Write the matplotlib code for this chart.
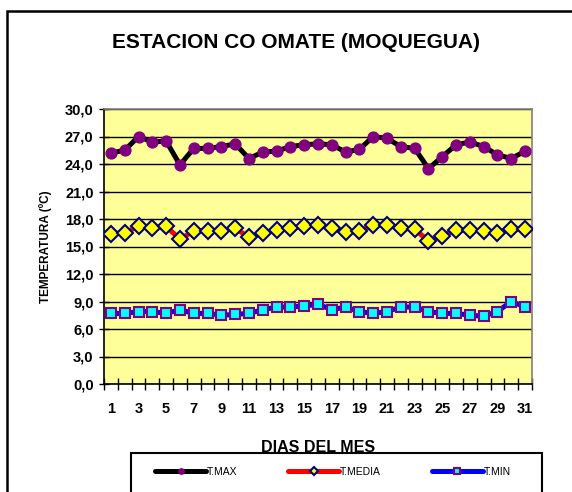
import numpy as np
import matplotlib
matplotlib.use("Agg")
import matplotlib.pyplot as plt
from matplotlib.patches import Rectangle

plt.rcParams['font.family'] = ['Liberation Sans', 'DejaVu Sans']

# datos
dias = list(range(1, 32))
t_max = [25.2, 25.5, 27.0, 26.4, 26.5, 23.9, 25.7, 25.7, 25.9, 26.2, 24.6,
         25.3, 25.4, 25.9, 26.1, 26.2, 26.1, 25.3, 25.6, 27.0, 26.8, 25.9,
         25.7, 23.5, 24.8, 26.1, 26.4, 25.9, 25.0, 24.6, 25.4]
t_media = [16.4, 16.5, 17.2, 17.0, 17.2, 15.8, 16.7, 16.7, 16.7, 17.0, 16.0,
           16.5, 16.8, 17.0, 17.2, 17.4, 17.0, 16.6, 16.7, 17.3, 17.4, 17.0,
           16.9, 15.6, 16.2, 16.8, 16.8, 16.7, 16.5, 16.9, 16.9]
t_min = [7.7, 7.7, 7.9, 7.9, 7.7, 8.1, 7.7, 7.7, 7.5, 7.6, 7.7,
         8.1, 8.4, 8.4, 8.5, 8.7, 8.1, 8.4, 7.9, 7.7, 7.9, 8.4,
         8.4, 7.9, 7.7, 7.7, 7.5, 7.4, 7.9, 9.0, 8.4]
y_ticks = [0, 3, 6, 9, 12, 15, 18, 21, 24, 27, 30]
y_labels = ['0,0', '3,0', '6,0', '9,0', '12,0', '15,0', '18,0', '21,0',
            '24,0', '27,0', '30,0']
x_labels = [str(d) for d in dias if d % 2 == 1]

W, H = 572, 492
fig = plt.figure(figsize=(W / 100, H / 100), dpi=100)
ax = fig.add_axes([104 / W, (H - 384) / H, 428 / W, 275 / H])
ax.set_facecolor('#FFFF99')

ax.plot(dias, t_max, '-', color='black', lw=3.6, marker='o', ms=7.8,
        mfc='#800080', mec='#800080', label='T.MAX', zorder=3)
ax.plot(dias, t_media, '-', color='red', lw=3.6, marker='D', ms=8,
        mfc='yellow', mec='#000080', mew=1.5, label='T.MEDIA', zorder=3)
ax.plot(dias, t_min, '-', color='blue', lw=3.6, marker='s', ms=7.5,
        mfc='#00FFFF', mec='#800080', mew=1.5, label='T.MIN', zorder=3)

ax.set_xlim(0.5, 31.5)
ax.set_ylim(0, 30)
ax.set_yticks(y_ticks)
ax.set_yticklabels(y_labels, fontsize=10.5, fontweight='bold')
ax.set_xticks(np.arange(0.5, 32, 1))
ax.set_xticklabels([])
ax.set_xticks([d for d in dias if d % 2 == 1], minor=True)
ax.set_xticklabels(x_labels, minor=True, fontsize=10.5, fontweight='bold')
ax.tick_params(axis='x', which='major', direction='inout', length=8, width=1)
ax.tick_params(axis='x', which='minor', length=0, pad=13)
ax.tick_params(axis='y', direction='inout', length=7, width=1, pad=4)
ax.grid(axis='y', color='black', lw=1)
ax.set_axisbelow(True)
for s in ['top', 'right']:
    ax.spines[s].set_color('#808080')
    ax.spines[s].set_linewidth(1.2)
for s in ['left', 'bottom']:
    ax.spines[s].set_linewidth(1.2)

ax.set_ylabel('TEMPERATURA (ºC)', fontsize=8.5, fontweight='bold', va='center')
ax.yaxis.set_label_coords((46 - 104) / 428, 0.5)
ax.set_xlabel('DIAS DEL MES', fontsize=11.5, fontweight='bold', va='center')
ax.xaxis.set_label_coords(0.5, (384 - 447) / 275)

fig.text(296.5 / W, (H - 42) / H, 'ESTACION CO OMATE (MOQUEGUA)',
         fontsize=15, fontweight='bold', ha='center', va='center')

# marco exterior y caja de leyenda
fig.patches.append(Rectangle((7 / W, -0.1), 1.0, (H - 11) / H + 0.1,
                             transform=fig.transFigure, fill=False,
                             lw=1.8, ec='black'))
fig.patches.append(Rectangle((131 / W, -0.1), 411 / W, (H - 453) / H + 0.1,
                             transform=fig.transFigure, fill=False,
                             lw=1.5, ec='black'))

leg = fig.legend(loc='center', bbox_to_anchor=(0.582, (H - 471.7) / H),
                 ncol=3, frameon=False, fontsize=7.5, handlelength=4.9,
                 handletextpad=0.05, columnspacing=4.9, markerscale=0.5)
for line in leg.get_lines():
    line.set_solid_capstyle('round')

fig.savefig('out.png', dpi=100)
